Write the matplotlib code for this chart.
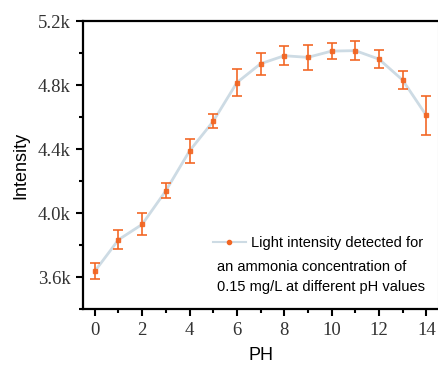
import matplotlib
matplotlib.use("Agg")
import matplotlib.pyplot as plt
from matplotlib.lines import Line2D
from matplotlib.ticker import MultipleLocator, FuncFormatter

ph = [0, 1, 2, 3, 4, 5, 6, 7, 8, 9, 10, 11, 12, 13, 14]
intensity = [3.636, 3.833, 3.929, 4.139, 4.388, 4.573, 4.815, 4.933, 4.983,
             4.973, 5.012, 5.015, 4.962, 4.831, 4.610]
errors = [0.050, 0.060, 0.068, 0.047, 0.075, 0.043, 0.083, 0.070, 0.060,
          0.077, 0.050, 0.058, 0.058, 0.056, 0.123]
legend_lines = ["Light intensity detected for",
                "an ammonia concentration of",
                "0.15 mg/L at different pH values"]

line_color = "#cddbe4"
err_color = "#f26522"

fig = plt.figure(figsize=(4.39, 3.65), dpi=100)
ax = fig.add_axes([0.189, 0.1534, 0.809, 0.789])

ax.plot(ph, intensity, color=line_color, lw=2.0, zorder=1)
ax.errorbar(ph, intensity, yerr=errors, fmt="s", ms=3, color=err_color,
            ecolor=err_color, elinewidth=1.3, capsize=3.5, capthick=1.3,
            alpha=0.9, zorder=2)

ax.set_xlim(-0.5, 14.5)
ax.set_ylim(3.4, 5.2)
ax.xaxis.set_major_locator(MultipleLocator(2))
ax.xaxis.set_minor_locator(MultipleLocator(1))
ax.yaxis.set_major_locator(MultipleLocator(0.4))
ax.yaxis.set_minor_locator(MultipleLocator(0.2))
ax.yaxis.set_major_formatter(FuncFormatter(lambda v, p: f"{v:.1f}k"))

for s in ["left", "bottom", "top"]:
    ax.spines[s].set_linewidth(1.6)
    ax.spines[s].set_color("black")
ax.spines["right"].set_color("#bbbbbb")
ax.spines["right"].set_linewidth(0.8)

ax.tick_params(which="major", direction="out", length=5, width=1.5,
               labelsize=13.5, pad=4)
ax.tick_params(which="minor", direction="out", length=3, width=1.5)
for lab in ax.get_xticklabels() + ax.get_yticklabels():
    lab.set_fontfamily("Liberation Serif")
    lab.set_color("#333333")

ax.set_xlabel("PH", fontsize=13, family="Liberation Sans", labelpad=6)
ax.set_ylabel("Intensity", fontsize=13, family="Liberation Sans", labelpad=6)

proxy = Line2D([], [], color=line_color, lw=1.5, marker="o", ms=3,
               markerfacecolor=err_color, markeredgecolor=err_color)
leg = ax.legend([proxy], [legend_lines[0]], loc="center left",
                bbox_to_anchor=(0.365, 0.229), frameon=False,
                prop={"family": "Liberation Sans", "size": 10.5},
                handlelength=2.3, handletextpad=0.3, borderpad=0,
                borderaxespad=0)
for i, t in enumerate(legend_lines[1:]):
    ax.text(0.378, [0.146, 0.076][i], t, transform=ax.transAxes,
            ha="left", va="center", fontsize=10.5, family="Liberation Sans")

fig.savefig("out.png", dpi=100)
